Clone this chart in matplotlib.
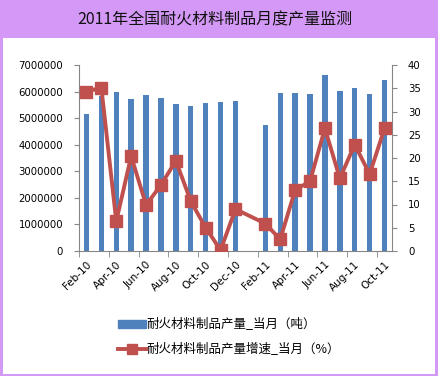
import matplotlib
matplotlib.use("Agg")
import matplotlib.pyplot as plt
import matplotlib.patches as mpatches
import numpy as np

months = ["Feb-10", "Mar-10", "Apr-10", "May-10", "Jun-10", "Jul-10", "Aug-10",
          "Sep-10", "Oct-10", "Nov-10", "Dec-10", "Jan-11", "Feb-11", "Mar-11",
          "Apr-11", "May-11", "Jun-11", "Jul-11", "Aug-11", "Sep-11", "Oct-11"]

# production, tons (Jan-11 not reported)
output_tons = [5150000, 5850000, 5980000, 5720000, 5880000, 5760000, 5540000,
               5470000, 5580000, 5620000, 5650000, np.nan, 4740000, 5960000,
               5960000, 5920000, 6640000, 6020000, 6130000, 5920000, 6440000]

# growth rate, %
growth_pct = [34.3, 35.1, 6.4, 20.4, 9.9, 14.2, 19.4, 10.7, 5.0, 0.2, 9.0,
              np.nan, 5.9, 2.5, 13.1, 15.0, 26.4, 15.6, 22.9, 16.5, 26.4]

title = "2011年全国耐火材料制品月度产量监测"
bar_label = "耐火材料制品产量_当月（吨）"
line_label = "耐火材料制品产量增速_当月（%）"

plt.rcParams['font.family'] = ['Noto Sans CJK SC', 'DejaVu Sans']

purple = '#D498F6'
blue = '#4F81BD'
red = '#C0504D'
grey = '#868686'

fig = plt.figure(figsize=(4.39, 3.76), dpi=100)
fig.patch.set_facecolor(purple)
W, H = 439.0, 376.0

# white panel under the title band
bg = fig.add_axes([3 / W, 2 / H, 432 / W, 336 / H])
bg.set_facecolor('white')
bg.set_xticks([])
bg.set_yticks([])
for s in bg.spines.values():
    s.set_visible(False)

fig.text(215 / W, 1 - 20 / H, title, ha='center', va='center', fontsize=11.5,
         color='#111111')

ax = fig.add_axes([79 / W, 1 - 251 / H, 313 / W, 186 / H])
ax.set_facecolor('none')
x = np.arange(len(months))
ax.bar(x, output_tons, width=0.36, color=blue, zorder=2)
ax.set_xlim(-0.5, len(months) - 0.5)
ax.set_ylim(0, 7000000)
ax.set_yticks(np.arange(0, 7000001, 1000000))
ax.set_yticklabels([str(v) for v in range(0, 7000001, 1000000)],
                   family='DejaVu Sans', fontsize=7.3)
ax.set_xticks(x[::2])
ax.set_xticklabels(months[::2], rotation=45, ha='right', rotation_mode='anchor',
                   family='DejaVu Sans', fontsize=7.5)
ax.tick_params(axis='x', length=0, pad=6)
ax.set_xticks(np.arange(-0.5, len(months), 2), minor=True)
ax.tick_params(axis='x', which='minor', length=4, color=grey, direction='out')
ax.tick_params(axis='y', length=3.5, color=grey, direction='out', pad=8)
for s in ['top', 'right']:
    ax.spines[s].set_visible(False)
for s in ['left', 'bottom']:
    ax.spines[s].set_color(grey)

ax2 = ax.twinx()
g = np.array(growth_pct)
ok = ~np.isnan(g)
ax2.plot(x[ok], g[ok], color=red, lw=2.8, marker='s', markersize=8, zorder=3)
ax2.set_ylim(0, 40)
ax2.set_yticks(np.arange(0, 41, 5))
ax2.set_yticklabels([str(v) for v in range(0, 41, 5)], family='DejaVu Sans', fontsize=7.3)
ax2.tick_params(axis='y', length=3.5, color=grey, direction='out', pad=8)
for s in ['top', 'left', 'bottom']:
    ax2.spines[s].set_visible(False)
ax2.spines['right'].set_color(grey)
ax2.set_xlim(-0.5, len(months) - 0.5)

h1 = mpatches.Patch(color=blue, label=bar_label)
h2 = plt.Line2D([], [], color=red, lw=2.8, marker='s', markersize=7, label=line_label)
fig.legend(handles=[h1, h2], loc='center', bbox_to_anchor=(229 / W, 1 - 337 / H),
           frameon=False, fontsize=9, handlelength=2.2, handletextpad=0.0,
           labelspacing=0.9, handleheight=0.55)

fig.savefig("out.png", dpi=100, facecolor=fig.get_facecolor())
